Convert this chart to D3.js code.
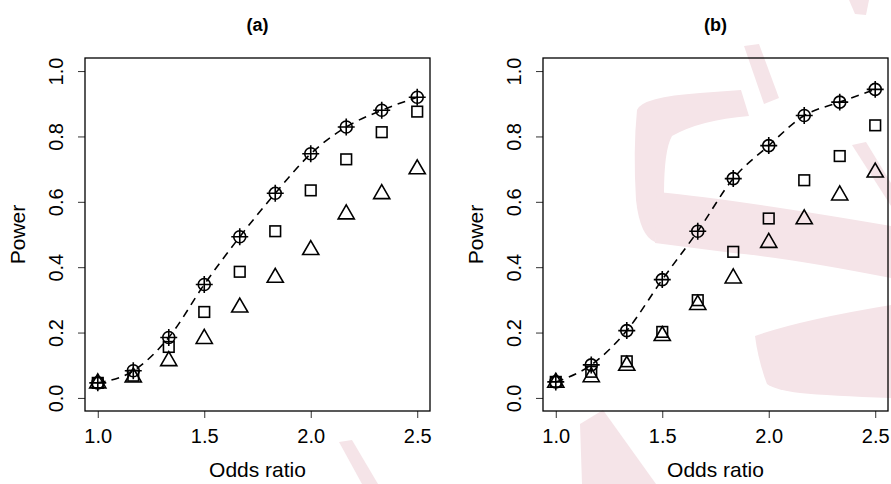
<!DOCTYPE html>
<html>
<head>
<meta charset="utf-8">
<script src="https://cdn.jsdelivr.net/npm/d3@7"></script>
<style>
  html, body { margin: 0; padding: 0; background: #ffffff; }
  svg { display: block; }
  text { font-family: "Liberation Sans", Arial, Helvetica, sans-serif; fill: #000; }
</style>
</head>
<body>
<svg id="chart" width="891" height="484"></svg>
<script>
// ---------------- data ----------------
const oddsRatio = [1.0, 7/6, 8/6, 1.5, 10/6, 11/6, 2.0, 13/6, 14/6, 2.5];
const xTicks = [1.0, 1.5, 2.0, 2.5];
const yTicks = [0.0, 0.2, 0.4, 0.6, 0.8, 1.0];
const panelTitles = ["(a)", "(b)"];
const xLabel = "Odds ratio";
const yLabel = "Power";

// panel (a)
const circleA = [0.046, 0.083, 0.185, 0.347, 0.493, 0.626, 0.747, 0.829, 0.880, 0.920];
const plusA   = [0.046, 0.083, 0.185, 0.347, 0.493, 0.626, 0.747, 0.829, 0.880, 0.920];
const squareA = [0.046, 0.068, 0.156, 0.263, 0.386, 0.510, 0.635, 0.730, 0.813, 0.876];
const triA    = [0.045, 0.063, 0.113, 0.181, 0.277, 0.368, 0.453, 0.562, 0.624, 0.700];
const curveA  = [0.046, 0.083, 0.185, 0.347, 0.493, 0.626, 0.747, 0.829, 0.880, 0.920];

// panel (b)
const circleB = [0.049, 0.101, 0.206, 0.362, 0.510, 0.671, 0.772, 0.864, 0.905, 0.944];
const plusB   = [0.049, 0.101, 0.206, 0.362, 0.510, 0.671, 0.772, 0.864, 0.905, 0.944];
const squareB = [0.049, 0.080, 0.112, 0.202, 0.299, 0.447, 0.549, 0.666, 0.740, 0.834];
const triB    = [0.047, 0.064, 0.099, 0.190, 0.285, 0.366, 0.475, 0.547, 0.620, 0.690];
const curveB  = [0.049, 0.101, 0.206, 0.362, 0.510, 0.671, 0.772, 0.864, 0.905, 0.944];

// ---------------- drawing ----------------
const svg = d3.select("#chart");
const ink = "#000";
const lw = 1.6;

// faint background watermark (decorative)
const wm = svg.append("g").attr("fill", "#f5e4e8").attr("stroke", "none");
[
  "M637,110 Q642,97 700,93 L741,90 L749,116 Q700,120 672,136 Q664,150 664,194 L655,242 Q640,236 636,200 Q633,150 637,110 Z",
  "M657,192 Q733,199 891,226 L891,278 Q790,258 733,253 L655,243 Z",
  "M744,46 L759,44 L779,98 L764,104 Z",
  "M852,145 L866,142 L891,183 L891,206 Z",
  "M755,336 Q800,320 891,305 L891,398 Q830,396 800,393 Q775,390 767,384 Q758,360 755,336 Z",
  "M580,424 L603,410 L656,484 L582,484 Z",
  "M849,0 L869,0 L866,15 L855,14 Z",
  "M339,442 L352,440 L378,484 L362,484 Z"
].forEach(p => wm.append("path").attr("d", p));

const panels = [
  { left: 85,  title: panelTitles[0], circle: circleA, plus: plusA, square: squareA, tri: triA, curve: curveA },
  { left: 543, title: panelTitles[1], circle: circleB, plus: plusB, square: squareB, tri: triB, curve: curveB }
];
const plotTop = 58, plotBottom = 411, plotW = 345;

panels.forEach(p => {
  const x = d3.scaleLinear().domain([0.94, 2.56]).range([p.left, p.left + plotW]);
  const y = d3.scaleLinear().domain([-0.04, 1.04]).range([plotBottom, plotTop]);
  const g = svg.append("g");

  // x axis
  const gx = g.append("g").attr("transform", `translate(0,${plotBottom})`)
    .call(d3.axisBottom(x).tickValues(xTicks).tickFormat(d3.format(".1f")).tickSize(7).tickPadding(6));
  gx.select(".domain").remove();
  gx.selectAll("line").attr("stroke", "#333").attr("stroke-width", 1);
  gx.selectAll("text").attr("font-size", 20).attr("dy", null).attr("y", 32)
    .attr("font-family", "Liberation Sans, Arial, sans-serif").attr("fill", ink);

  // y axis
  const gy = g.append("g").attr("transform", `translate(${p.left},0)`)
    .call(d3.axisLeft(y).tickValues(yTicks).tickFormat(d3.format(".1f")).tickSize(7));
  gy.select(".domain").remove();
  gy.selectAll("line").attr("stroke", "#333").attr("stroke-width", 1);
  gy.selectAll("text")
    .attr("font-size", 20)
    .attr("font-family", "Liberation Sans, Arial, sans-serif")
    .attr("fill", ink)
    .attr("x", 0).attr("dy", null).attr("y", 0)
    .attr("text-anchor", "middle")
    .attr("transform", "translate(-22,0) rotate(-90)");

  // box
  g.append("rect").attr("x", p.left).attr("y", plotTop).attr("width", plotW).attr("height", plotBottom - plotTop)
    .attr("fill", "none").attr("stroke", ink).attr("stroke-width", 1.3);

  // labels
  g.append("text").attr("x", p.left + plotW / 2).attr("y", 477).attr("text-anchor", "middle")
    .attr("font-size", 21).text(xLabel);
  g.append("text").attr("transform", `translate(${p.left - 60},${(plotTop + plotBottom) / 2}) rotate(-90)`)
    .attr("text-anchor", "middle").attr("font-size", 21).text(yLabel);
  g.append("text").attr("x", p.left + plotW / 2).attr("y", 31).attr("text-anchor", "middle")
    .attr("font-size", 18).attr("font-weight", "bold").text(p.title);

  // dashed curve
  const line = d3.line().x((d, i) => x(oddsRatio[i])).y(d => y(d)).curve(d3.curveMonotoneX);
  g.append("path").datum(p.curve).attr("d", line)
    .attr("fill", "none").attr("stroke", ink).attr("stroke-width", lw).attr("stroke-dasharray", "8,6");

  const R = 6;
  // triangles
  g.selectAll(".tri").data(p.tri).join("path").attr("class", "tri")
    .attr("d", (d, i) => {
      const cx = x(oddsRatio[i]), cy = y(d);
      return `M${cx},${cy - 1.555 * R}L${cx + 1.347 * R},${cy + 0.778 * R}L${cx - 1.347 * R},${cy + 0.778 * R}Z`;
    })
    .attr("fill", "none").attr("stroke", ink).attr("stroke-width", lw).attr("stroke-linejoin", "miter");
  // squares
  const s = 0.886 * R;
  g.selectAll(".sq").data(p.square).join("rect").attr("class", "sq")
    .attr("x", (d, i) => x(oddsRatio[i]) - s).attr("y", d => y(d) - s)
    .attr("width", 2 * s).attr("height", 2 * s)
    .attr("fill", "none").attr("stroke", ink).attr("stroke-width", lw);
  // circles
  g.selectAll(".ci").data(p.circle).join("circle").attr("class", "ci")
    .attr("cx", (d, i) => x(oddsRatio[i])).attr("cy", d => y(d)).attr("r", R)
    .attr("fill", "none").attr("stroke", ink).attr("stroke-width", lw);
  // plus
  const pl = 1.414 * R;
  g.selectAll(".pl").data(p.plus).join("path").attr("class", "pl")
    .attr("d", (d, i) => {
      const cx = x(oddsRatio[i]), cy = y(d);
      return `M${cx - pl},${cy}H${cx + pl}M${cx},${cy - pl}V${cy + pl}`;
    })
    .attr("fill", "none").attr("stroke", ink).attr("stroke-width", lw);
});
</script>
</body>
</html>
